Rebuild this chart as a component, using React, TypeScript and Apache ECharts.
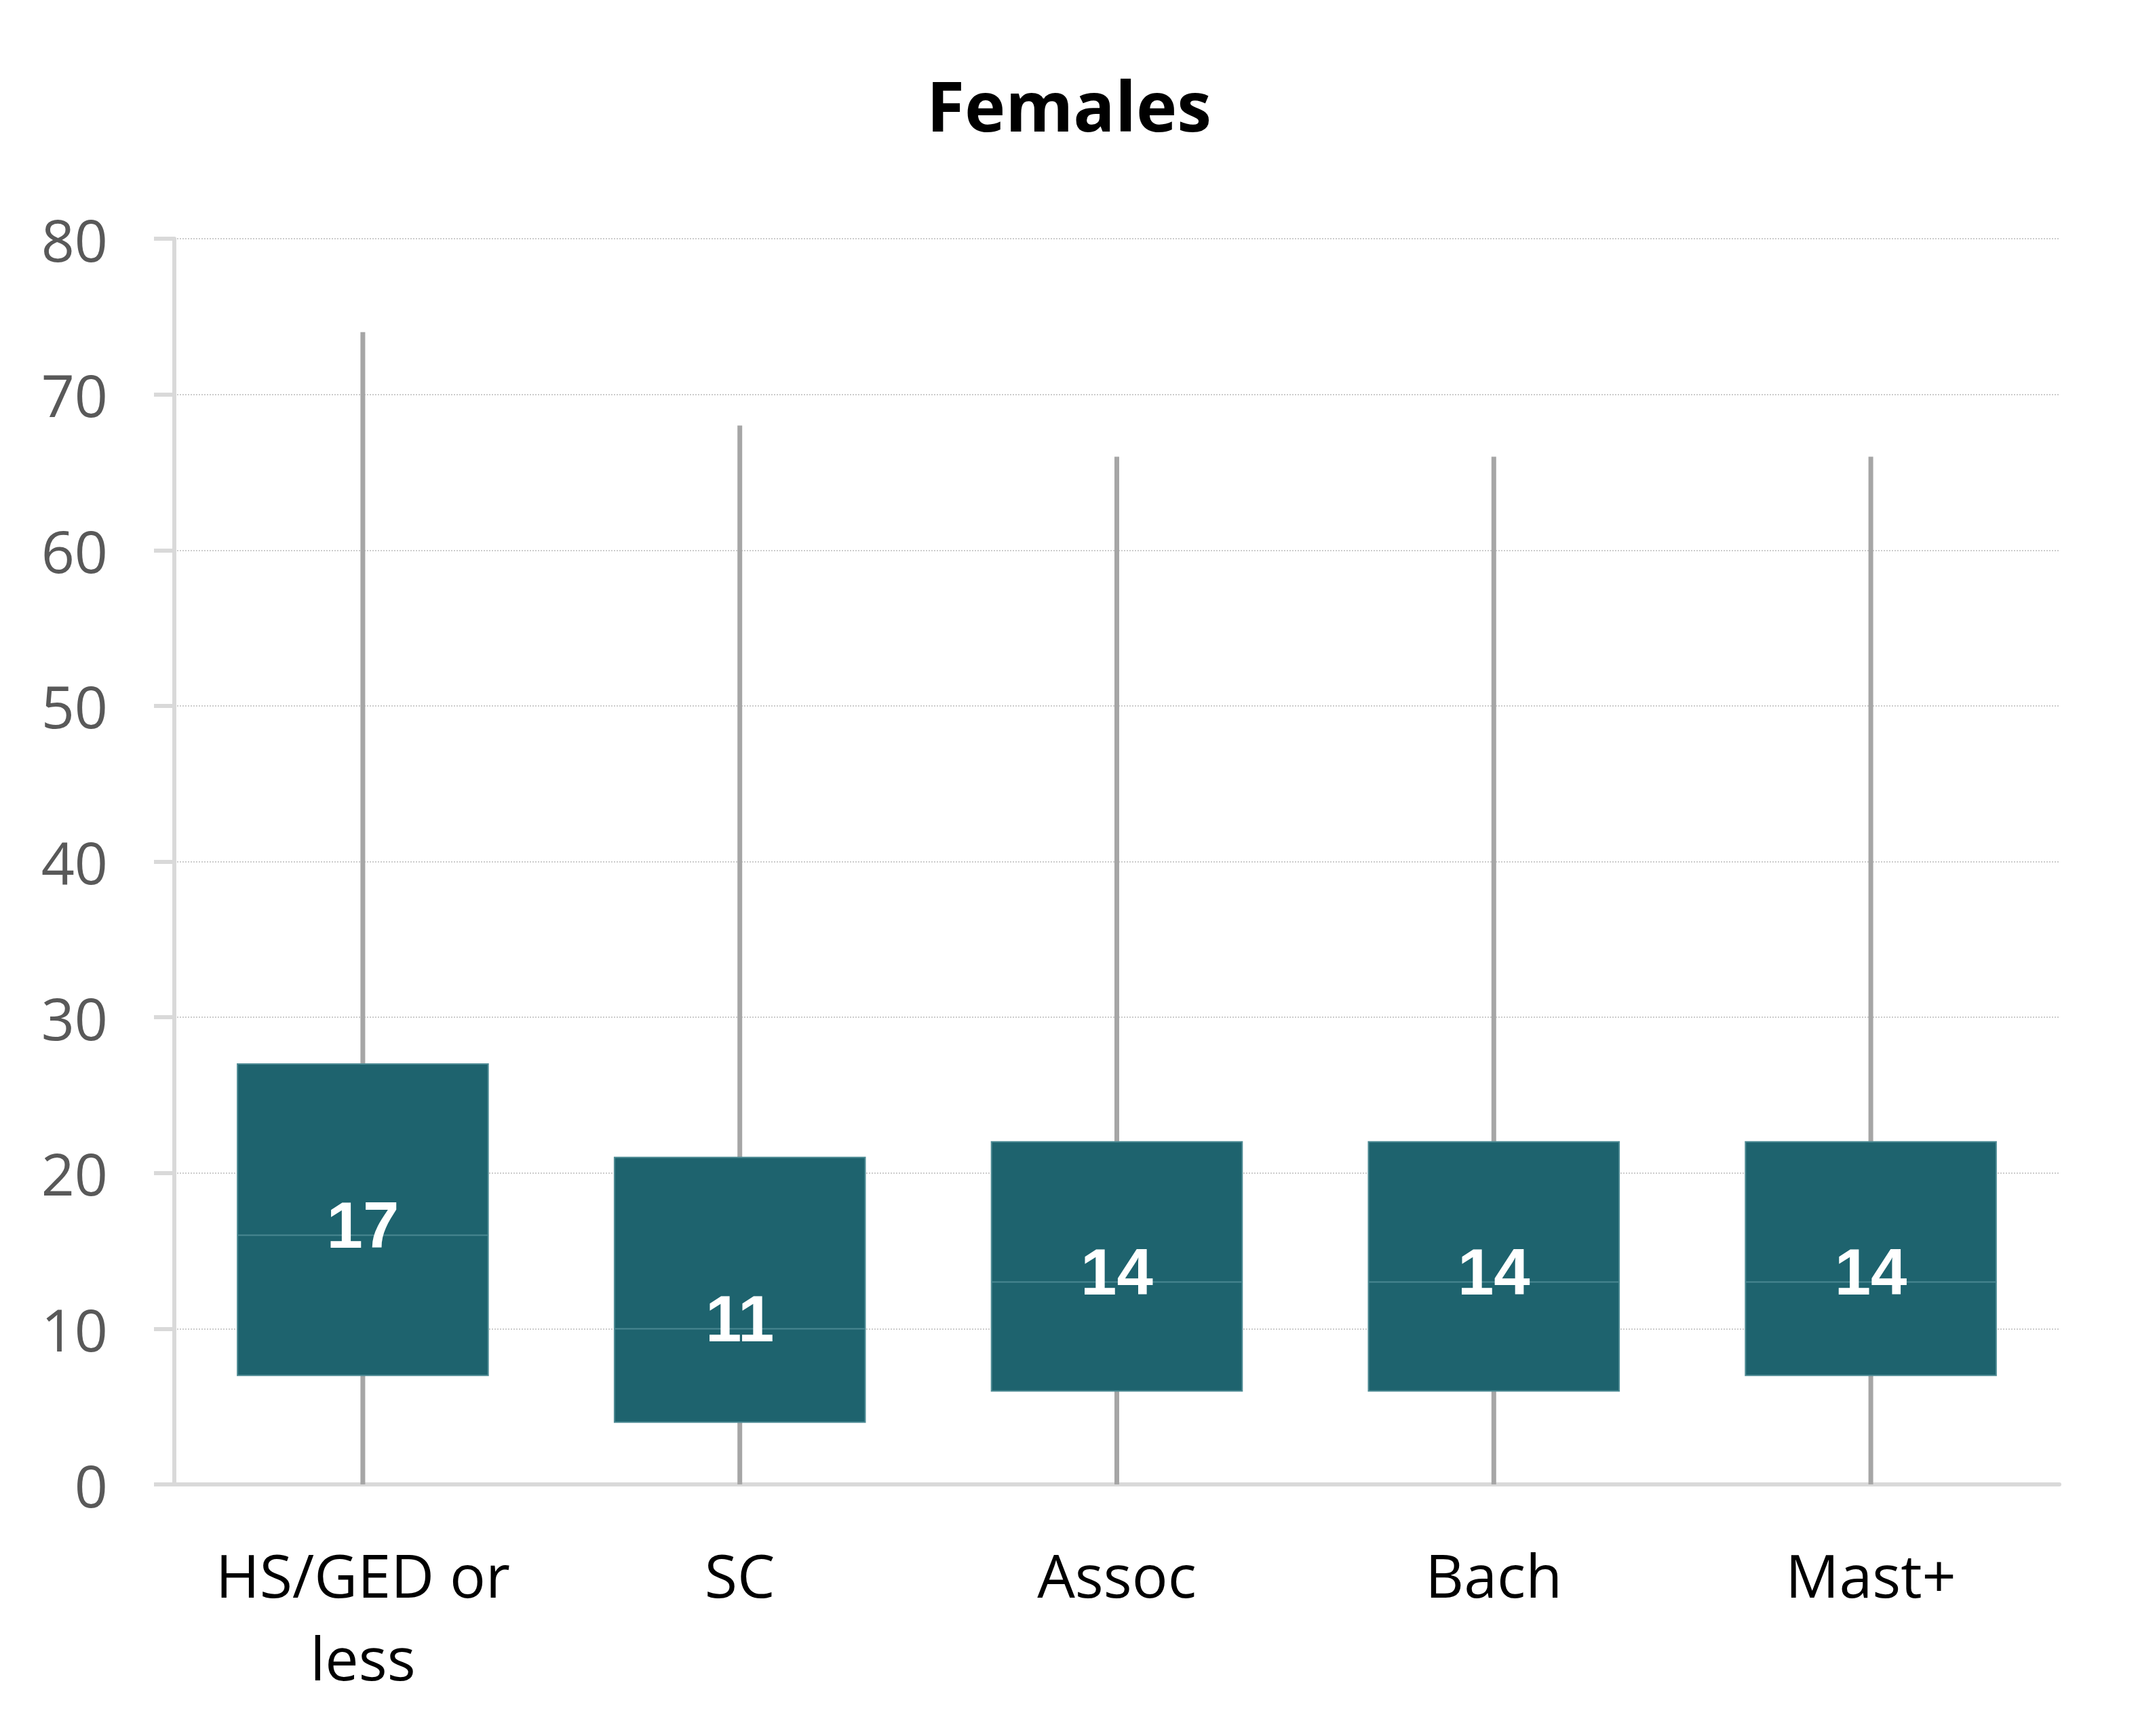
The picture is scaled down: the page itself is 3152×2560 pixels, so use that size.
import React, { useEffect, useRef } from 'react';
import * as echarts from 'echarts';

// categories and box statistics
const categories = ['HS/GED or\nless', 'SC', 'Assoc', 'Bach', 'Mast+'];
const lowWhisker = [0, 0, 0, 0, 0];
const q1 = [7, 4, 6, 6, 7];
const median = [16, 10, 13, 13, 13];
const q3 = [27, 21, 22, 22, 22];
const highWhisker = [74, 68, 66, 66, 66];
const meanLabel = [17, 11, 14, 14, 14];
const yTicks = { min: 0, max: 80, interval: 10 };

const BOX_COLOR = '#1e636e';

const App: React.FC = () => {
  const chartRef = useRef<HTMLDivElement>(null);

  useEffect(() => {
    document.body.style.margin = '0';
    if (!chartRef.current) return;
    const chart = echarts.init(chartRef.current, undefined, { renderer: 'svg' });

    const boxData = categories.map((_, i) => [
      i, lowWhisker[i], q1[i], median[i], q3[i], highWhisker[i], meanLabel[i],
    ]);

    const option = {
      animation: false,
      backgroundColor: '#ffffff',
      title: {
        text: 'Females',
        left: 'center',
        top: 94,
        textStyle: {
          fontFamily: 'Open Sans',
          fontWeight: 'bold',
          fontSize: 102,
          lineHeight: 110,
          color: '#000000',
        },
      },
      grid: { left: 257, right: 116, top: 352, bottom: 371 },
      xAxis: {
        type: 'category',
        data: categories,
        boundaryGap: true,
        axisLine: { show: true, lineStyle: { color: '#d9d9d9', width: 6 } },
        axisTick: { show: false },
        axisLabel: {
          color: '#000000',
          fontFamily: 'Open Sans',
          fontSize: 88,
          lineHeight: 122,
          margin: 72,
          interval: 0,
        },
        splitLine: { show: false },
      },
      yAxis: {
        type: 'value',
        min: yTicks.min,
        max: yTicks.max,
        interval: yTicks.interval,
        axisLine: { show: true, lineStyle: { color: '#d9d9d9', width: 6 } },
        axisTick: { show: true, length: 30, lineStyle: { color: '#d9d9d9', width: 6 } },
        axisLabel: {
          color: '#595959',
          fontFamily: 'Open Sans',
          fontSize: 86,
          margin: 98,
        },
        splitLine: { show: true, lineStyle: { color: '#cccccc', width: 2, type: 'dotted' } },
      },
      series: [
        {
          type: 'custom',
          data: boxData,
          encode: { x: 0, y: [1, 2, 3, 4, 5] },
          renderItem: (_params: any, api: any) => {
            const idx = api.value(0);
            const band = api.size([1, 0])[0];
            const w = band * 0.665;
            const pLow = api.coord([idx, api.value(1)]);
            const pQ1 = api.coord([idx, api.value(2)]);
            const pMed = api.coord([idx, api.value(3)]);
            const pQ3 = api.coord([idx, api.value(4)]);
            const pHigh = api.coord([idx, api.value(5)]);
            const pMean = api.coord([idx, api.value(6)]);
            const x = pQ1[0];
            return {
              type: 'group',
              children: [
                {
                  type: 'line',
                  shape: { x1: x, y1: pLow[1], x2: x, y2: pHigh[1] },
                  style: { stroke: '#a6a6a6', lineWidth: 7 },
                },
                {
                  type: 'rect',
                  shape: { x: x - w / 2, y: pQ3[1], width: w, height: pQ1[1] - pQ3[1] },
                  style: { fill: BOX_COLOR, stroke: '#4f8c95', lineWidth: 2 },
                },
                {
                  type: 'line',
                  shape: { x1: x - w / 2, y1: pMed[1], x2: x + w / 2, y2: pMed[1] },
                  style: { stroke: '#4a8891', lineWidth: 2 },
                },
                {
                  type: 'text',
                  x: x,
                  y: pMean[1] + 8,
                  style: {
                    text: String(api.value(6)),
                    fill: '#ffffff',
                    fontFamily: 'Liberation Sans',
                    fontWeight: 'bold',
                    fontSize: 96,
                    align: 'center',
                    verticalAlign: 'middle',
                  },
                },
              ],
            };
          },
        },
      ],
    };

    chart.setOption(option);
    return () => chart.dispose();
  }, []);

  return <div ref={chartRef} style={{ width: 3152, height: 2560 }} />;
};

export default App;
